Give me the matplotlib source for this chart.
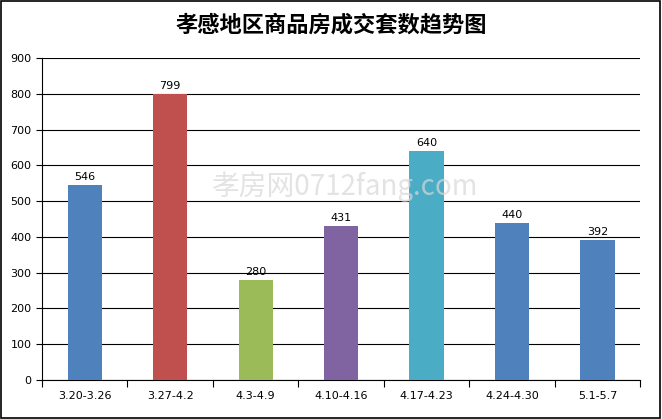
import matplotlib
matplotlib.use("Agg")
import matplotlib.pyplot as plt
import numpy as np

plt.rcParams['font.family'] = ['Noto Sans CJK SC', 'DejaVu Sans']

# data
weeks = ["3.20-3.26", "3.27-4.2", "4.3-4.9", "4.10-4.16", "4.17-4.23", "4.24-4.30", "5.1-5.7"]
deals = [546, 799, 280, 431, 640, 440, 392]
bar_colors = ["#4F81BD", "#C0504D", "#9BBB59", "#8064A2", "#4BACC6", "#4F81BD", "#4F81BD"]

fig = plt.figure(figsize=(6.62, 4.19), dpi=100)
ax = fig.add_axes([0.0634, 0.0931, 0.9036, 0.7685])

x = np.arange(len(weeks))
ax.bar(x, deals, width=0.4, color=bar_colors, zorder=3)
for xi, v in zip(x, deals):
    ax.text(xi, v + 8, str(v), ha='center', va='bottom', fontsize=8, family='DejaVu Sans', zorder=4)

ax.set_xlim(-0.5, len(weeks) - 0.5)
ax.set_ylim(0, 900)
ax.set_yticks(np.arange(0, 901, 100))
ax.yaxis.grid(True, color='black', linewidth=0.8, zorder=0)
ax.set_xticks(x)
ax.set_xticklabels(weeks, fontsize=8, family='DejaVu Sans')
ax.tick_params(axis='x', length=0, pad=8)
ax.set_xticks(np.arange(-0.5, len(weeks)), minor=True)
ax.tick_params(axis='x', which='minor', length=5, width=0.8)
ax.tick_params(axis='y', labelsize=8, length=4, width=0.8, direction='out')
for lbl in ax.get_yticklabels():
    lbl.set_family('DejaVu Sans')

for side in ['top', 'right']:
    ax.spines[side].set_visible(False)
ax.spines['left'].set_linewidth(0.8)
ax.spines['bottom'].set_linewidth(0.8)

fig.text(0.5, 0.94, "孝感地区商品房成交套数趋势图", ha='center', va='center',
         fontsize=16, fontweight='bold')

# faint watermark
fig.text(0.52, 0.555, "孝房网0712fang.com", ha='center', va='center', fontsize=20,
         color='#d8d8d8', alpha=0.7, zorder=10)

# outer frame
fig.patches.append(plt.Rectangle((0.002, 0.003), 0.995, 0.994, transform=fig.transFigure,
                                 fill=False, edgecolor='black', linewidth=1.2))

fig.savefig("out.png", dpi=100)
